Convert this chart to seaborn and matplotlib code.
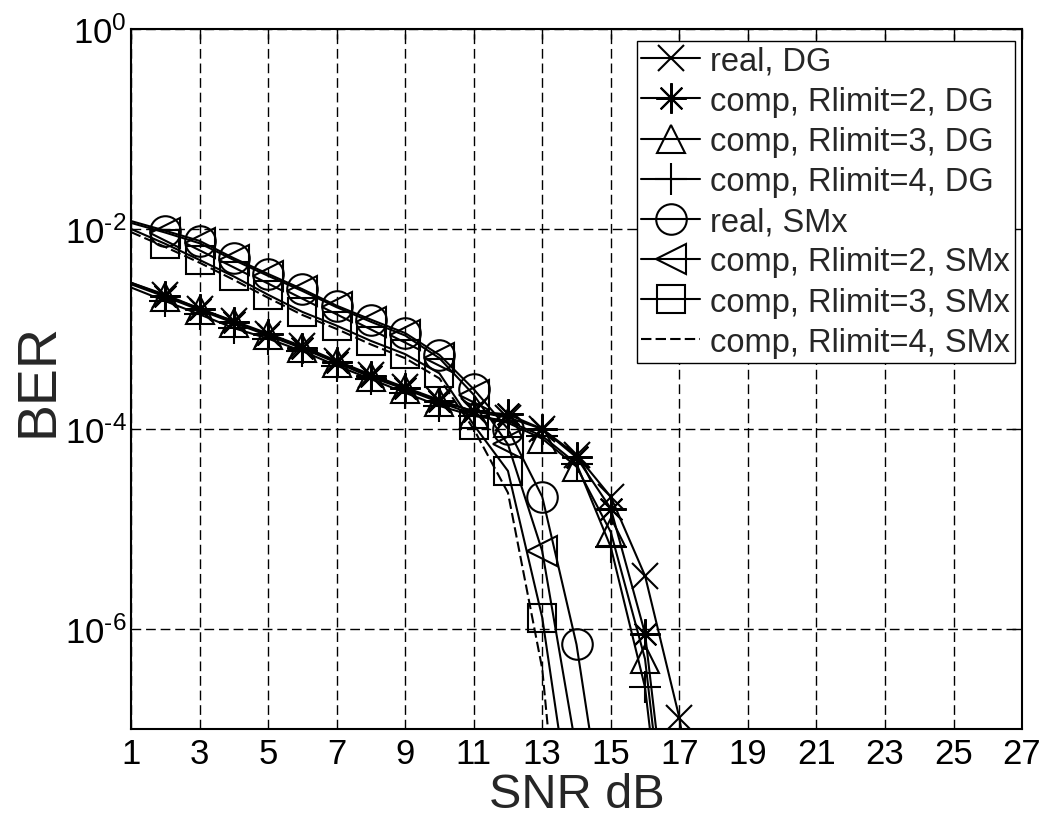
import numpy as np
import pandas as pd
import matplotlib
matplotlib.use("Agg")
import matplotlib.pyplot as plt
import seaborn as sns
from matplotlib.ticker import FixedLocator, FuncFormatter, NullLocator

# BER curves, SNR starts at 1 dB
snr = list(range(1, 19))

real_dg = [2.9e-3, 2.2e-3, 1.6e-3, 1.2e-3, 9.0e-4, 6.7e-4, 4.8e-4, 3.5e-4, 2.6e-4,
           1.95e-4, 1.5e-4, 1.3e-4, 1.0e-4, 5.5e-5, 2.1e-5, 3.4e-6, 1.3e-7, 1e-9]
comp2_dg = [2.9e-3, 2.15e-3, 1.6e-3, 1.18e-3, 8.8e-4, 6.5e-4, 4.7e-4, 3.4e-4, 2.55e-4,
            1.9e-4, 1.5e-4, 1.4e-4, 1.0e-4, 5.2e-5, 1.6e-5, 9e-7, 1e-9]
comp3_dg = [2.8e-3, 2.1e-3, 1.55e-3, 1.15e-3, 8.6e-4, 6.4e-4, 4.6e-4, 3.3e-4, 2.5e-4,
            1.85e-4, 1.4e-4, 1.15e-4, 8e-5, 4.2e-5, 9.3e-6, 5e-7, 5e-10]
comp4_dg = [2.6e-3, 1.9e-3, 1.4e-3, 1.02e-3, 8.0e-4, 6.0e-4, 4.3e-4, 3.15e-4, 2.3e-4,
            1.7e-4, 1.35e-4, 1.2e-4, 8.5e-5, 4.5e-5, 6.6e-6, 2.6e-7, 3e-10]
real_smx = [1.2e-2, 9.6e-3, 7.6e-3, 5.1e-3, 3.55e-3, 2.5e-3, 1.71e-3, 1.24e-3, 9.1e-4,
            5.5e-4, 2.5e-4, 1.0e-4, 2.1e-5, 7e-7, 4e-9]
comp2_smx = [1.15e-2, 9.2e-3, 7.2e-3, 4.9e-3, 3.4e-3, 2.4e-3, 1.65e-3, 1.18e-3, 8.6e-4,
             5.1e-4, 2.2e-4, 7e-5, 6e-6, 6e-8, 1e-10]
comp3_smx = [1.0e-2, 7.1e-3, 4.9e-3, 3.35e-3, 2.2e-3, 1.48e-3, 1.08e-3, 7.6e-4, 5.6e-4,
             3.6e-4, 1.1e-4, 3.8e-5, 1.3e-6, 6e-9]
comp4_smx = [9.3e-3, 6.6e-3, 4.6e-3, 3.1e-3, 2.05e-3, 1.38e-3, 1.0e-3, 7.0e-4, 5.1e-4,
             3.2e-4, 1.0e-4, 2.3e-5, 4e-7, 1e-10]

labels = ["real, DG", "comp, Rlimit=2, DG", "comp, Rlimit=3, DG", "comp, Rlimit=4, DG",
          "real, SMx", "comp, Rlimit=2, SMx", "comp, Rlimit=3, SMx", "comp, Rlimit=4, SMx"]
curves = [real_dg, comp2_dg, comp3_dg, comp4_dg, real_smx, comp2_smx, comp3_smx, comp4_smx]

# marker, size, linestyle
styles = [("x", 19, "-"), ((8, 2, 0), 22, "-"), ("^", 20, "-"), ("+", 23, "-"),
          ("o", 22, "-"), ("<", 22, "-"), ("s", 20, "-"), ("None", 1, (0, (5, 2)))]

sns.set_style("white")
plt.rcParams["font.family"] = ["Liberation Sans", "DejaVu Sans"]
plt.rcParams["mathtext.fontset"] = "custom"
plt.rcParams["mathtext.rm"] = "Liberation Sans"
plt.rcParams["mathtext.default"] = "regular"

fig = plt.figure(figsize=(10.41, 8.2), dpi=100)
ax = fig.add_axes([0.1258, 0.1098, 0.856, 0.8537])
ax.set_yscale("log")

for lab, vals, (mk, ms, ls) in zip(labels, curves, styles):
    df = pd.DataFrame({"snr": snr[:len(vals)], "ber": vals})
    sns.lineplot(data=df, x="snr", y="ber", ax=ax, color="black", lw=1.5,
                 linestyle=ls, marker=mk, markersize=ms, markevery=slice(1, None),
                 markerfacecolor="none", markeredgecolor="black",
                 markeredgewidth=1.5, label=lab, legend=False)

ax.set_xlim(1, 27)
ax.set_ylim(1e-7, 1)
ax.xaxis.set_major_locator(FixedLocator(list(range(1, 28, 2))))
ax.yaxis.set_major_locator(FixedLocator([1e-6, 1e-4, 1e-2, 1]))
ax.yaxis.set_minor_locator(NullLocator())
ax.yaxis.set_major_formatter(
    FuncFormatter(lambda v, p: r"$10^{\text{%d}}$" % int(round(np.log10(v)))))

ax.grid(True, color="black", linestyle=(0, (7, 3.5)), linewidth=1.0)
ax.tick_params(direction="in", length=7, width=1, top=True, right=True,
               labelsize=25, colors="black")
ax.tick_params(axis="x", pad=6)
ax.tick_params(axis="y", pad=3)
for sp in ax.spines.values():
    sp.set_linewidth(1.5)
    sp.set_color("black")

ax.set_xlabel("SNR dB", fontsize=35, labelpad=1)
ax.set_ylabel("BER", fontsize=40, labelpad=0.5)

leg = ax.legend(loc="upper right", bbox_to_anchor=(0.992, 0.983), borderaxespad=0,
                fontsize=23.5, frameon=True, fancybox=False, framealpha=1,
                edgecolor="black", handlelength=1.8, handletextpad=0.3,
                labelspacing=0.28, borderpad=0.15)
leg.get_frame().set_linewidth(1.0)

fig.savefig("out.png", dpi=100)
